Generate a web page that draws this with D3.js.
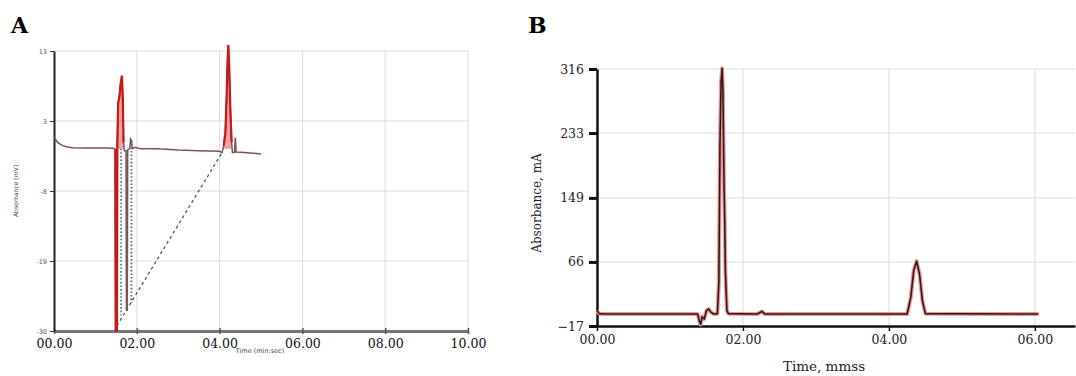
<!DOCTYPE html>
<html><head><meta charset="utf-8">
<script src="https://cdn.jsdelivr.net/npm/d3@7/dist/d3.min.js"></script>
<style>body{margin:0;background:#fff}svg{display:block}</style>
</head><body>
<svg id="c" width="1076" height="376"></svg>
<script>
// ---------- Panel A data ----------
const timeA = [0,0.05,0.1,0.2,0.3,0.45,0.8,1.2,1.44,1.48,1.49,1.52,1.53,1.55,1.58,1.61,1.64,1.66,1.68,1.70,1.74,1.75,1.77,1.78,1.83,1.85,1.87,1.89,1.95,2.1,2.5,3.0,3.5,4.0,4.06,4.10,4.14,4.17,4.19,4.21,4.23,4.26,4.29,4.31,4.36,4.38,4.40,4.6,4.8,5.0];
const absA  = [-0.2,-0.7,-1.1,-1.5,-1.7,-1.85,-1.9,-1.9,-1.95,-2.1,-30,-30,-1,5,6,8,9.2,6,-1,-2.3,-2.3,-26.8,-26.8,-2.2,-2.0,-0.5,-0.7,-2.0,-1.8,-2.0,-2.0,-2.2,-2.3,-2.4,-2.6,-1.5,0.5,6,11,13.9,11,4,-1,-2.6,-2.6,-0.3,-2.5,-2.6,-2.7,-2.8];
const peakWindowsA = [[1.48,1.69],[4.08,4.30]];
const dropTimeA   = [1.62, 1.87];
const dropTopA    = [-2, -0.7];
const dropBottomA = [-27.6, -25.7];
const baselineLineTimeA = [1.52, 4.06];
const baselineLineAbsA  = [-29.2, -2.6];
const xTicksA = [0,2,4,6,8,10];
const xTickLabelsA = ["00.00","02.00","04.00","06.00","08.00","10.00"];
const yTicksA = [-30,-19.25,-8.5,2.25,13];
const yTickLabelsA = ["-30","-19","-8","3","13"];

// ---------- Panel B data ----------
const timeB = [0,0.03,0.1,1.38,1.40,1.42,1.44,1.47,1.50,1.53,1.56,1.60,1.65,1.67,1.685,1.70,1.715,1.725,1.74,1.75,1.76,1.78,1.80,2.20,2.26,2.30,4.25,4.30,4.34,4.38,4.42,4.46,4.50,6.05];
const absB  = [3,-1,-1.5,-1.5,-10,-15,-5,-8,3,5,1,-1.5,-1,40,217,300,317,290,172,120,52,3,-1,-1.5,2,-1.5,-1.5,20,55,67,50,15,-1,-1.5];
const xTicksB = [0,2,4,6];
const xTickLabelsB = ["00.00","02.00","04.00","06.00"];
const yTicksB = [-17,66,149,233,316];

const svg = d3.select("#c");
const serif = "DejaVu Serif, serif";
const grid = "#dcdcdc";

// ================= Panel A =================
const xA = d3.scaleLinear().domain([0,10]).range([54,468]);
const yA = d3.scaleLinear().domain([-30,13]).range([331,51]);
const gA = svg.append("g");

gA.append("text").attr("x",11).attr("y",33).text("A")
  .attr("font-family",serif).attr("font-weight","bold").attr("font-size",22);

gA.selectAll(".vg").data(xTicksA.slice(1)).join("line")
  .attr("x1",d=>xA(d)).attr("x2",d=>xA(d)).attr("y1",yA(13)).attr("y2",yA(-30))
  .attr("stroke",grid).attr("stroke-width",1);
gA.selectAll(".hg").data(yTicksA.slice(1)).join("line")
  .attr("x1",xA(0)).attr("x2",xA(10)).attr("y1",d=>yA(d)).attr("y2",d=>yA(d))
  .attr("stroke",grid).attr("stroke-width",1);

const axA = gA.append("g").attr("transform",`translate(0,${yA(-30)})`)
  .call(d3.axisBottom(xA).tickValues(xTicksA).tickSize(3).tickSizeOuter(0)
    .tickFormat((d,i)=>xTickLabelsA[i]));
axA.select(".domain").attr("stroke","#777").attr("stroke-width",3);
axA.selectAll(".tick line").attr("stroke","#555").attr("stroke-width",1.5).attr("y1",-3);
axA.selectAll(".tick text").attr("font-family",serif).attr("font-size",12.5).attr("fill","#111").attr("dy","0.9em");

const ayA = gA.append("g").attr("transform",`translate(${xA(0)},0)`)
  .call(d3.axisLeft(yA).tickValues(yTicksA).tickSize(4).tickSizeOuter(0)
    .tickFormat((d,i)=>yTickLabelsA[i]));
ayA.select(".domain").attr("stroke","#222").attr("stroke-width",2);
ayA.selectAll(".tick line").attr("stroke","#333");
ayA.selectAll(".tick text").attr("font-family","DejaVu Sans, sans-serif").attr("font-size",6.5).attr("fill","#555");

gA.append("text").attr("transform",`translate(18,191) rotate(-90)`).attr("text-anchor","middle")
  .attr("font-family","DejaVu Sans, sans-serif").attr("font-size",6).attr("fill","#444").text("Absorbance [mV]");
gA.append("text").attr("x",260).attr("y",353).attr("text-anchor","middle")
  .attr("font-family","DejaVu Sans, sans-serif").attr("font-size",6.5).attr("fill","#444").text("Time (min:sec)");

const ptsA = timeA.map((t,i)=>({t, v:absA[i]}));
const lineA = d3.line().x(d=>xA(d.t)).y(d=>yA(d.v));

gA.append("path").datum(baselineLineTimeA.map((t,i)=>({t,v:baselineLineAbsA[i]})))
  .attr("d",lineA).attr("fill","none").attr("stroke","#555").attr("stroke-width",1.3).attr("stroke-dasharray","3,3");
gA.selectAll(".drop").data(dropTimeA).join("line")
  .attr("x1",d=>xA(d)).attr("x2",d=>xA(d))
  .attr("y1",(d,i)=>yA(dropTopA[i])).attr("y2",(d,i)=>yA(dropBottomA[i]))
  .attr("stroke",(d,i)=>i===0?"#4b8a6a":"#666").attr("stroke-width",1.8).attr("stroke-dasharray","1.6,2");

peakWindowsA.forEach(w=>{
  const seg = ptsA.filter(d=>d.t>=w[0]&&d.t<=w[1]);
  gA.append("path").datum(seg)
    .attr("d",d3.area().x(d=>xA(d.t)).y0(yA(-2)).y1(d=>yA(d.v)))
    .attr("fill","#e05555").attr("opacity",0.55);
});
gA.append("path").datum(ptsA).attr("d",lineA).attr("fill","none")
  .attr("stroke","#7a5555").attr("stroke-width",1.5);
peakWindowsA.forEach(w=>{
  const seg = ptsA.filter(d=>d.t>=w[0]&&d.t<=w[1]);
  gA.append("path").datum(seg).attr("d",lineA).attr("fill","none")
    .attr("stroke","#c81818").attr("stroke-width",2.2);
});
gA.append("path").datum(ptsA.filter(d=>d.t>=1.62&&d.t<=1.65)).attr("d",lineA)
  .attr("fill","none").attr("stroke","#5a9a5a").attr("stroke-width",1.5);
gA.append("path").datum(ptsA.filter(d=>d.t>=4.20&&d.t<=4.22)).attr("d",lineA)
  .attr("fill","none").attr("stroke","#6a9a5a").attr("stroke-width",1.5);

// ================= Panel B =================
const xB = d3.scaleLinear().domain([0,6.55]).range([597,1075]);
const yB = d3.scaleLinear().domain([-17,316]).range([326,69]);
const gB = svg.append("g");

gB.append("text").attr("x",528).attr("y",33).text("B")
  .attr("font-family",serif).attr("font-weight","bold").attr("font-size",22);

gB.selectAll(".vg").data(xTicksB.slice(1)).join("line")
  .attr("x1",d=>xB(d)).attr("x2",d=>xB(d)).attr("y1",yB(316)).attr("y2",yB(-17))
  .attr("stroke",grid);
gB.selectAll(".hg").data(yTicksB.slice(1)).join("line")
  .attr("x1",xB(0)).attr("x2",xB(6.55)).attr("y1",d=>yB(d)).attr("y2",d=>yB(d))
  .attr("stroke",grid);

const axB = gB.append("g").attr("transform",`translate(0,${yB(-17)})`)
  .call(d3.axisBottom(xB).tickValues(xTicksB).tickSize(5).tickSizeOuter(0)
    .tickFormat((d,i)=>xTickLabelsB[i]));
axB.select(".domain").attr("stroke","#111").attr("stroke-width",2.5);
axB.selectAll(".tick line").attr("stroke","#111").attr("stroke-width",1.5);
axB.selectAll(".tick text").attr("font-family",serif).attr("font-size",12.5).attr("fill","#222").attr("dy","0.8em");

const ayB = gB.append("g").attr("transform",`translate(${xB(0)},0)`)
  .call(d3.axisLeft(yB).tickValues(yTicksB).tickSize(8).tickSizeOuter(0));
ayB.select(".domain").attr("stroke","#111").attr("stroke-width",2.5);
ayB.selectAll(".tick line").attr("stroke","#111").attr("stroke-width",3);
ayB.selectAll(".tick text").attr("font-family",serif).attr("font-size",12.5).attr("fill","#222").attr("x",-13);

gB.append("text").attr("transform",`translate(541,203) rotate(-90)`).attr("text-anchor","middle")
  .attr("font-family",serif).attr("font-size",12).attr("fill","#222").text("Absorbance, mA");
gB.append("text").attr("x",824).attr("y",371).attr("text-anchor","middle")
  .attr("font-family",serif).attr("font-size",13.5).attr("fill","#222").text("Time, mmss");

const ptsB = timeB.map((t,i)=>({t,v:absB[i]}));
const lineB = d3.line().x(d=>xB(d.t)).y(d=>yB(d.v));
gB.append("path").datum(ptsB).attr("d",lineB).attr("fill","none")
  .attr("stroke","#e89a9a").attr("stroke-width",4).attr("stroke-linejoin","round");
gB.append("path").datum(ptsB).attr("d",lineB).attr("fill","none")
  .attr("stroke","#3a1414").attr("stroke-width",1.6).attr("stroke-linejoin","round");
</script>
</body></html>
